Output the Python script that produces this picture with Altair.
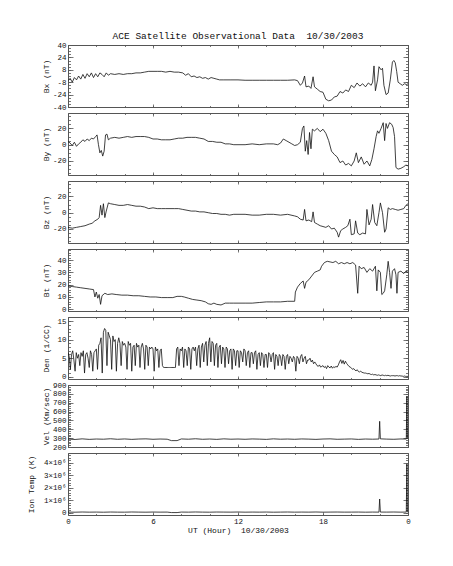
import altair as alt
import pandas as pd

FONT = "Liberation Mono"
FRAME = "#555555"
TEXT = "#111111"

# ---------------- data ----------------
bx_t = [0.0, 0.15, 0.3, 0.45, 0.6, 0.75, 0.9, 1.05, 1.2, 1.35, 1.5, 1.65, 1.8, 1.95, 2.1, 2.25, 2.4, 2.55, 2.7, 2.85,
        3.0, 3.3, 3.6, 3.9, 4.2, 4.5, 4.8, 5.1, 5.4, 5.7, 6.0, 6.3, 6.6, 6.9, 7.2, 7.5, 7.8, 8.1, 8.3, 8.5,
        8.7, 8.9, 9.1, 9.3, 9.5, 9.7, 9.9, 10.1, 10.3, 10.5, 10.7, 11.0, 11.5, 12.0, 12.5, 13.0, 13.5, 14.0, 14.5, 15.0,
        15.5, 16.0, 16.2, 16.4, 16.55, 16.7, 16.8, 17.0, 17.15, 17.3, 17.4, 17.6, 17.8, 18.0, 18.2, 18.4, 18.6, 18.8, 19.0, 19.2,
        19.4, 19.6, 19.8, 20.0, 20.2, 20.4, 20.6, 20.8, 21.0, 21.2, 21.4, 21.5, 21.6, 21.7, 21.85, 21.95, 22.1, 22.2, 22.3, 22.45,
        22.6, 22.75, 22.9, 23.0, 23.1, 23.2, 23.3, 23.45, 23.6, 23.75, 23.9, 24.0]
bx_v = [-6, -3, -8, -2, -5, 0, -4, 2, -3, 3, -1, 4, -2, 3, -1, 4, 2, -1, 4, 1,
        3, 2, 3, 2, 3, 3, 4, 4, 5, 6, 6, 6, 6, 5, 6, 5, 5, 4, 1, 3,
        -1, 0, -2, -1, -3, -2, -4, -2, -3, -4, -5, -5, -5, -5, -5.5, -5.5, -5.5, -5.5, -5.5, -5.5,
        -5.5, -5, -6, -12, -9, 0, -14, -13, -16, -1, -14, -17, -20, -21, -30, -32, -31, -27, -26, -20,
        -22, -18, -20, -12, -15, -9, -13, -10, -14, -9, -12, -8, 13, -19, -5, 12, 8, 10, -12, -24,
        -22, -5, 18, 20, 17, 6, -8, -10, -12, -10, -11, -10]

by_t = [0.0, 0.15, 0.3, 0.45, 0.6, 0.75, 0.9, 1.05, 1.2, 1.35, 1.5, 1.65, 1.8, 1.95, 2.05, 2.15, 2.25, 2.35, 2.45, 2.55,
        2.65, 2.75, 2.85, 3.0, 3.3, 3.6, 3.9, 4.2, 4.5, 4.8, 5.1, 5.4, 5.7, 6.0, 6.3, 6.6, 6.9, 7.2, 7.5, 7.8,
        8.1, 8.4, 8.7, 9.0, 9.3, 9.6, 9.9, 10.2, 10.5, 10.8, 11.1, 11.4, 11.7, 12.0, 12.5, 13.0, 13.5, 14.0, 14.5, 14.8,
        15.0, 15.2, 15.4, 15.6, 15.8, 16.0, 16.2, 16.4, 16.55, 16.65, 16.75, 16.85, 16.95, 17.05, 17.15, 17.25, 17.4, 17.6, 17.8, 18.0,
        18.2, 18.4, 18.6, 18.8, 19.0, 19.2, 19.4, 19.6, 19.8, 20.0, 20.2, 20.35, 20.5, 20.7, 20.9, 21.1, 21.3, 21.45, 21.6, 21.75,
        21.85, 21.95, 22.1, 22.25, 22.35, 22.45, 22.55, 22.7, 22.85, 22.95, 23.05, 23.15, 23.3, 23.5, 23.7, 23.85, 24.0]
by_v = [4, 2, -1, 3, -2, 1, 3, 6, 4, 7, 5, 8, 7, 10, 12, 0, -10, -7, -14, -8,
        12, 13, 6, 8, 9, 8, 9, 10, 9, 10, 10, 10, 9, 7, 7, 6, 6, 6, 7, 8,
        8, 9, 9, 9, 8, 7, 4, 4, 3, 3, 1, 1, 0, 0, 0, 1, 0, 1, 1, 0,
        2, 7, 5, 3, 1, -1, 0, 3, 20, 23, -8, 5, -12, 15, -5, 19, 17, 20, 16, 19,
        14, 5, -8, -12, -15, -22, -20, -25, -23, -26, -20, -10, -22, -15, -24, -20, -26, -18, -5, 10,
        17, 14, 20, 27, 5, 26, 20, 27, 25, 21, 10, -28, -30, -29, -27, -25, -26]

bz_t = [0.0, 0.3, 0.6, 0.9, 1.2, 1.5, 1.7, 1.9, 2.1, 2.2, 2.3, 2.4, 2.5, 2.6, 2.7, 2.85, 3.0, 3.3, 3.6, 3.9,
        4.2, 4.5, 4.8, 5.1, 5.4, 5.7, 6.0, 6.3, 6.6, 6.9, 7.2, 7.5, 7.8, 8.1, 8.4, 8.7, 9.0, 9.3, 9.6, 9.9,
        10.2, 10.5, 10.8, 11.1, 11.4, 11.7, 12.0, 12.5, 13.0, 13.5, 14.0, 14.5, 15.0, 15.5, 16.0, 16.2, 16.4, 16.6, 16.7, 16.8,
        17.0, 17.2, 17.3, 17.4, 17.6, 17.8, 18.0, 18.2, 18.4, 18.6, 18.8, 19.0, 19.1, 19.25, 19.4, 19.6, 19.75, 19.9, 20.0, 20.2,
        20.3, 20.45, 20.6, 20.8, 21.0, 21.1, 21.25, 21.4, 21.5, 21.65, 21.8, 21.95, 22.05, 22.2, 22.35, 22.45, 22.6, 22.75, 22.9, 23.1,
        23.3, 23.5, 23.7, 23.85, 24.0]
bz_v = [-18, -19, -18, -17, -16, -14, -13, -10, -8, -6, 9, -3, 11, -6, 2, 12, 11, 10, 9, 9,
        10, 9, 8, 8, 7, 5, 6, 5, 5, 5, 5, 5, 5, 4, 3, 2, 2, 1, 1, 0,
        -1, -1, -2, -2, -3, -2, -2, -2, -3, -3, -2, -2, -3, -2, -4, -5, -8, -9, 4, -10,
        -9, -11, 1, -12, -14, -16, -17, -18, -16, -20, -19, -24, -30, -22, -20, -18, -16, -8, -27, -26,
        -10, -25, -27, -25, -26, 4, -15, -8, 10, -12, -16, 0, 12, 0, -24, -20, 6, 4, 5, 4,
        3, 4, 5, 9, 11]

bt_t = [0.0, 0.3, 0.6, 0.9, 1.2, 1.5, 1.8, 1.9, 2.0, 2.1, 2.2, 2.3, 2.4, 2.6, 2.8, 3.1, 3.4, 3.8, 4.2, 4.6,
        5.0, 5.4, 5.8, 6.2, 6.6, 7.0, 7.4, 7.7, 8.0, 8.2, 8.5, 8.8, 9.1, 9.4, 9.7, 9.9, 10.1, 10.3, 10.5, 10.8,
        11.1, 11.4, 11.7, 12.0, 12.5, 13.0, 13.5, 14.0, 14.5, 15.0, 15.5, 16.0, 16.05, 16.2, 16.4, 16.6, 16.7, 16.8, 17.0, 17.2,
        17.4, 17.6, 17.8, 17.9, 18.1, 18.3, 18.5, 18.7, 18.9, 19.1, 19.3, 19.5, 19.7, 19.9, 20.1, 20.3, 20.45, 20.55, 20.7, 20.9,
        21.1, 21.3, 21.5, 21.7, 21.8, 21.9, 22.05, 22.15, 22.25, 22.35, 22.5, 22.6, 22.7, 22.8, 22.9, 23.05, 23.15, 23.22, 23.3, 23.5,
        23.7, 23.85, 24.0]
bt_v = [19, 18.5, 18, 17.5, 17, 16.5, 16, 10, 14, 9, 12, 4, 11, 13, 12, 12.5, 12, 11.5, 11.5, 11,
        11, 10.5, 10, 10, 9.5, 9.5, 9.5, 10.5, 10.5, 10, 9, 8, 7.5, 7, 6, 4.5, 4, 5, 4, 3.5,
        5, 5, 5, 5, 5, 5, 5.5, 6, 6, 6, 6.5, 6.5, 14, 18, 21, 23, 17, 22, 24, 27,
        30, 31, 32, 35, 38, 39, 38.5, 38, 39, 37, 38, 37, 38, 37, 38, 36, 13, 35, 33, 34,
        30, 33, 31, 35, 15, 32, 30, 12, 13, 15, 28, 39, 30, 17, 31, 33, 28, 13, 30, 31,
        29, 31, 30]

# density sampled every 5 minutes (12 samples per hour), hour by hour
den_v = [6.5, 5.5, 2, 6, 7, 4.5, 1.5, 6.5, 5, 6, 3, 6.5,
         5.5, 7, 1, 6, 6.5, 5, 2.5, 7, 6, 1.5, 6.5, 7,
         7.5, 2, 8.5, 9, 10.5, 1, 12, 13, 12.5, 3, 12, 11,
         10, 2, 11, 9.5, 10, 1.5, 9, 10.5, 9, 3, 9.5, 8.5,
         9, 8, 2, 9.5, 8.5, 9, 1.5, 8, 8.5, 3, 9, 8,
         8.5, 2.5, 8, 9, 7.5, 2, 8.5, 8, 3, 8, 7.5, 8,
         7.5, 1.5, 8, 7, 7.5, 2.5, 7, 7.5, 3, 2.5, 2.5, 2.5,
         2.5, 2.5, 2.5, 2.5, 2.5, 2.5, 2.5, 2.5, 7.5, 8, 3, 7.5,
         7, 8, 2.5, 7.5, 7, 3, 8, 7.5, 2, 7.5, 8, 7,
         8, 3, 7.5, 8.5, 2.5, 8, 9, 4, 8.5, 9.5, 3, 9,
         10.5, 4, 9.5, 9, 3, 8.5, 9, 2.5, 8, 8.5, 3.5, 8,
         7.5, 2.5, 8, 7.5, 3.5, 7, 7.5, 2, 7.5, 7, 3, 7,
         7, 2.5, 7, 6.5, 4, 7.5, 7, 3, 6.5, 7, 2.5, 6.5,
         6.5, 3.5, 6.5, 7, 2, 6, 6.5, 3, 6.5, 6, 2.5, 6,
         6, 2.5, 6.5, 6, 4, 6, 6.5, 2, 6, 5.5, 3, 6,
         5.5, 3, 6, 5.5, 2, 5.5, 6, 3.5, 5.5, 5, 4, 5.5,
         5, 1.5, 5.5, 5, 3.5, 5.5, 6, 4, 5, 5.5, 3.5, 4.5,
         4.5, 5, 4, 4.5, 3.5, 4, 3.5, 3, 2.8, 3.2, 2.6, 2.8,
         3, 2.5, 2.8, 2.2, 3, 2.6, 2.4, 2.9, 2.3, 2.7, 2.5, 2.8,
         2.6, 3.2, 4, 4.6, 3.6, 4.4, 3.4, 4.2, 3.6, 3.2, 2.8, 2.6,
         2.4, 2, 2.2, 1.8, 1.6, 1.9, 1.4, 1.3, 1.5, 1.2, 1.1, 1,
         1, 0.9, 0.8, 0.9, 0.7, 0.6, 0.7, 0.5, 0.6, 0.5, 0.4, 0.5,
         0.4, 0.3, 0.5, 0.4, 0.3, 0.4, 0.3, 0.4, 0.3, 0.2, 0.3, 0.3,
         0.3, 0.2, 0.3, 0.3, 0.2, 0.3, 0.2, 0.2, 0.1, 0.2, 0.1, 0.1,
         0.1]
den_t = [i / 12 for i in range(len(den_v))]

sw_t = [0, 0.5, 1, 1.5, 2, 2.5, 3, 3.5, 4, 4.5, 5, 5.5, 6, 6.5, 7, 7.3, 7.7, 8, 8.5, 9, 9.5, 10, 10.5, 11, 11.5,
        12, 12.5, 13, 13.5, 14, 14.5, 15, 15.5, 16, 16.5, 17, 17.5, 18, 18.5, 19, 19.5, 20, 20.5, 21, 21.5,
        21.95, 22.0, 22.05, 22.5, 23, 23.5, 23.88, 23.92, 23.96, 24.0]
vel_v = [290, 285, 292, 286, 290, 288, 293, 287, 291, 286, 290, 292, 287, 290, 288,
         272, 272,
         291, 288, 293, 287, 290, 286, 292, 288, 290, 287, 291, 289, 286, 292, 288, 290, 287, 291, 289, 286,
         290, 292, 287, 289, 291, 286, 290, 288,
         290, 490, 292,
         289, 287, 291,
         290, 770, 300, 292]
temp_v = [52000, 45000, 60000, 48000, 55000, 43000, 58000, 50000, 47000, 61000, 52000, 46000, 57000, 49000, 53000,
          15000, 15000,
          55000, 48000, 62000, 51000, 46000, 58000, 53000, 49000, 60000, 47000, 54000, 50000, 57000, 45000,
          52000, 59000, 48000, 55000, 50000, 61000, 47000, 53000, 58000, 49000, 52000, 56000, 46000, 54000,
          50000, 1100000, 55000,
          52000, 60000, 48000,
          56000, 3900000, 70000, 60000]

x_major = [0, 6, 12, 18, 24]
x_minor = [0, 2, 4, 6, 8, 10, 12, 14, 16, 18, 20, 22, 24]

W, H = 340, 62
YTICK = 5


def axis(orient, values, size, labels=False, title=None, label_expr=None, **kw):
    args = dict(orient=orient, values=values, tickSize=size, offset=-size,
                domain=False, grid=False, ticks=True, tickColor=FRAME, tickWidth=0.8,
                labels=labels, title=title, minExtent=0, maxExtent=200)
    if labels:
        args.update(labelFont=FONT, labelFontSize=7.5, labelColor=TEXT, labelPadding=2,
                    labelOverlap=False, labelFlush=False, labelBound=False)
        if label_expr:
            args["labelExpr"] = label_expr
    if title:
        args.update(titleFont=FONT, titleFontSize=8, titleFontWeight="normal", titleColor=TEXT)
    args.update(kw)
    return alt.Axis(**args)


def panel(t, v, domain, ytitle, ymajor, yminor, title_x, ylabel="'' + datum.value", last=False, top=None):
    df = pd.DataFrame({"t": t, "v": v})
    xs = alt.Scale(domain=[0, 24], nice=False, zero=False)
    ys = alt.Scale(domain=domain, nice=False, zero=False)

    def lay(xa, ya, visible):
        return alt.Chart(df).mark_line(
            color="#111111", strokeWidth=0.8, opacity=1 if visible else 0, clip=True
        ).encode(x=alt.X("t:Q", scale=xs, axis=xa), y=alt.Y("v:Q", scale=ys, axis=ya))

    xlab = "datum.value >= 24 ? '0' : '' + datum.value"
    if last:
        xa = axis("bottom", x_major, 3, labels=True, title="UT (Hour) \u00a010/30/2003",
                  label_expr=xlab, titlePadding=2)
    else:
        xa = axis("bottom", x_major, 3)
    ya = axis("left", ymajor, YTICK, labels=True, title=ytitle, label_expr=ylabel,
              titleX=title_x - YTICK, titleBaseline="middle", titleAngle=270)
    l1 = lay(xa, ya, True)
    l2 = lay(axis("bottom", x_minor, 1.5), axis("left", yminor, 2.5), False)
    l3 = lay(axis("top", x_major, 3), axis("right", ymajor, YTICK), False)
    l4 = lay(axis("top", x_minor, 1.5), axis("right", yminor, 2.5), False)
    props = dict(width=W, height=H)
    if top:
        props["title"] = alt.TitleParams(text=top, font=FONT, fontSize=9.5, fontWeight="normal",
                                         color=TEXT, anchor="middle", frame="group", offset=1)
    return alt.layer(l1, l2, l3, l4).resolve_axis(x="independent", y="independent").properties(**props)


def rng(a, b, s):
    out = []
    x = a
    while x <= b + 1e-9:
        out.append(round(x, 6))
        x += s
    return out


# title centre positions relative to the plot's left edge
TX = -22
TX_TEMP = -37

p1 = panel(bx_t, bx_v, [-40, 40], "Bx (nT)", [-40, -24, -8, 8, 24, 40], rng(-40, 40, 4), TX,
           top="ACE Satellite Observational Data \u00a010/30/2003")
p2 = panel(by_t, by_v, [-37.2, 38.9], "By (nT)", [-20, 0, 20], rng(-35, 35, 5), TX)
p3 = panel(bz_t, bz_v, [-37.2, 38.9], "Bz (nT)", [-20, 0, 20], rng(-35, 35, 5), TX)
p4 = panel(bt_t, bt_v, [-1.4, 49], "Bt (nT)", [0, 10, 20, 30, 40], rng(0, 48, 2), TX)
p5 = panel(den_t, den_v, [-0.6, 16.1], "Den (1/CC)", [0, 5, 10, 15], rng(0, 16, 1), TX)
p6 = panel(sw_t, vel_v, [200, 900], "Vel (Km/sec)", rng(200, 900, 100), rng(200, 900, 20), TX)
p7 = panel(sw_t, temp_v, [-180000, 4780000], "Ion Temp (K)", [0, 1000000, 2000000, 3000000, 4000000],
           rng(0, 4600000, 200000), TX_TEMP,
           ylabel="datum.value == 0 ? '0' : (datum.value / 1000000) + '\u00d710\u2076'", last=True)

chart = alt.VConcatChart(
    vconcat=[p1, p2, p3, p4, p5, p6, p7], spacing=6, bounds="flush"
).properties(
    padding={"left": 18, "top": 22, "right": 5, "bottom": 5},
    background="white",
).configure_view(stroke=FRAME, strokeWidth=1)

chart.save("out.html", embed_options={"renderer": "svg", "actions": False})
